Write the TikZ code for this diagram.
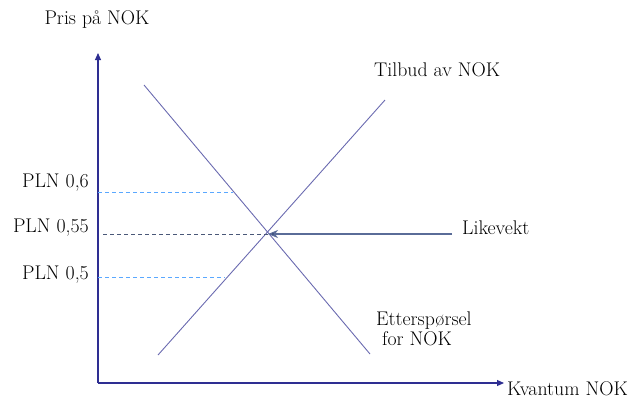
\documentclass[tikz,border=0pt]{standalone}
\usetikzlibrary{arrows.meta}
\definecolor{axisblue}{HTML}{2E2E92}
\definecolor{curveblue}{HTML}{6A6AB0}
\definecolor{lightdash}{HTML}{5AA8FF}
\definecolor{darkdash}{HTML}{4A5878}
\definecolor{arrline}{HTML}{5A6C98}
\definecolor{arrhead}{HTML}{14285A}
\tikzset{
  lbl/.style={inner sep=0pt, text=black, font=\fontsize{19.8}{23}\selectfont},
  axisline/.style={draw=axisblue, line width=1.1pt, -{Triangle[length=7pt,width=6pt]}},
  curve/.style={draw=curveblue, line width=0.9pt},
  lightdashed/.style={draw=lightdash, line width=0.9pt, dash pattern=on 4pt off 3pt},
  darkdashed/.style={draw=darkdash, line width=0.9pt, dash pattern=on 4pt off 3pt},
}
\begin{document}
\begin{tikzpicture}[x=1pt,y=-1pt]
\useasboundingbox (0,0) rectangle (634,400);
% axes
\coordinate (O) at (98,383);
\coordinate (ytop) at (98,53);
\coordinate (xend) at (504,383);
\draw[axisline] (O) -- (ytop);
\draw[axisline] (O) -- (xend);
\node[lbl] (ylab) at (97,20) {Pris på NOK};
\node[lbl, anchor=west] (xlab) at (507,389) {Kvantum NOK};
% curves
\coordinate (d1) at (144,85);
\coordinate (d2) at (370,354);
\coordinate (s1) at (158,355);
\coordinate (s2) at (385,100);
\draw[curve] (d1) -- (d2);
\draw[curve] (s1) -- (s2);
\coordinate (E) at (268,234);
% dashed levels
\coordinate (p6a) at (98,192);
\coordinate (p6b) at (233,192);
\coordinate (p55a) at (103,234);
\coordinate (p5a) at (98,277);
\coordinate (p5b) at (225,277);
\draw[lightdashed] (p6a) -- (p6b);
\draw[darkdashed] (p55a) -- (E);
\draw[lightdashed] (p5a) -- (p5b);
\node[lbl, anchor=east] (l6) at (89,183) {PLN 0,6};
\node[lbl, anchor=east] (l55) at (89,228) {PLN 0,55};
\node[lbl, anchor=east] (l5) at (89,275) {PLN 0,5};
% labels
\node[lbl, anchor=west] (tilbud) at (374,70) {Tilbud av NOK};
\node[lbl, anchor=west] (likevekt) at (462,228) {Likevekt};
\node[lbl, anchor=north west, align=left] (ett) at (376,312) {Etterspørsel\\[-3pt]\ for NOK};
% equilibrium arrow
\coordinate (astart) at (452,234);
\draw[draw=arrline, line width=1.3pt, -{Stealth[length=10pt,width=8pt,inset=3pt,fill=arrhead]}] (astart) -- (E);
\end{tikzpicture}
\end{document}
